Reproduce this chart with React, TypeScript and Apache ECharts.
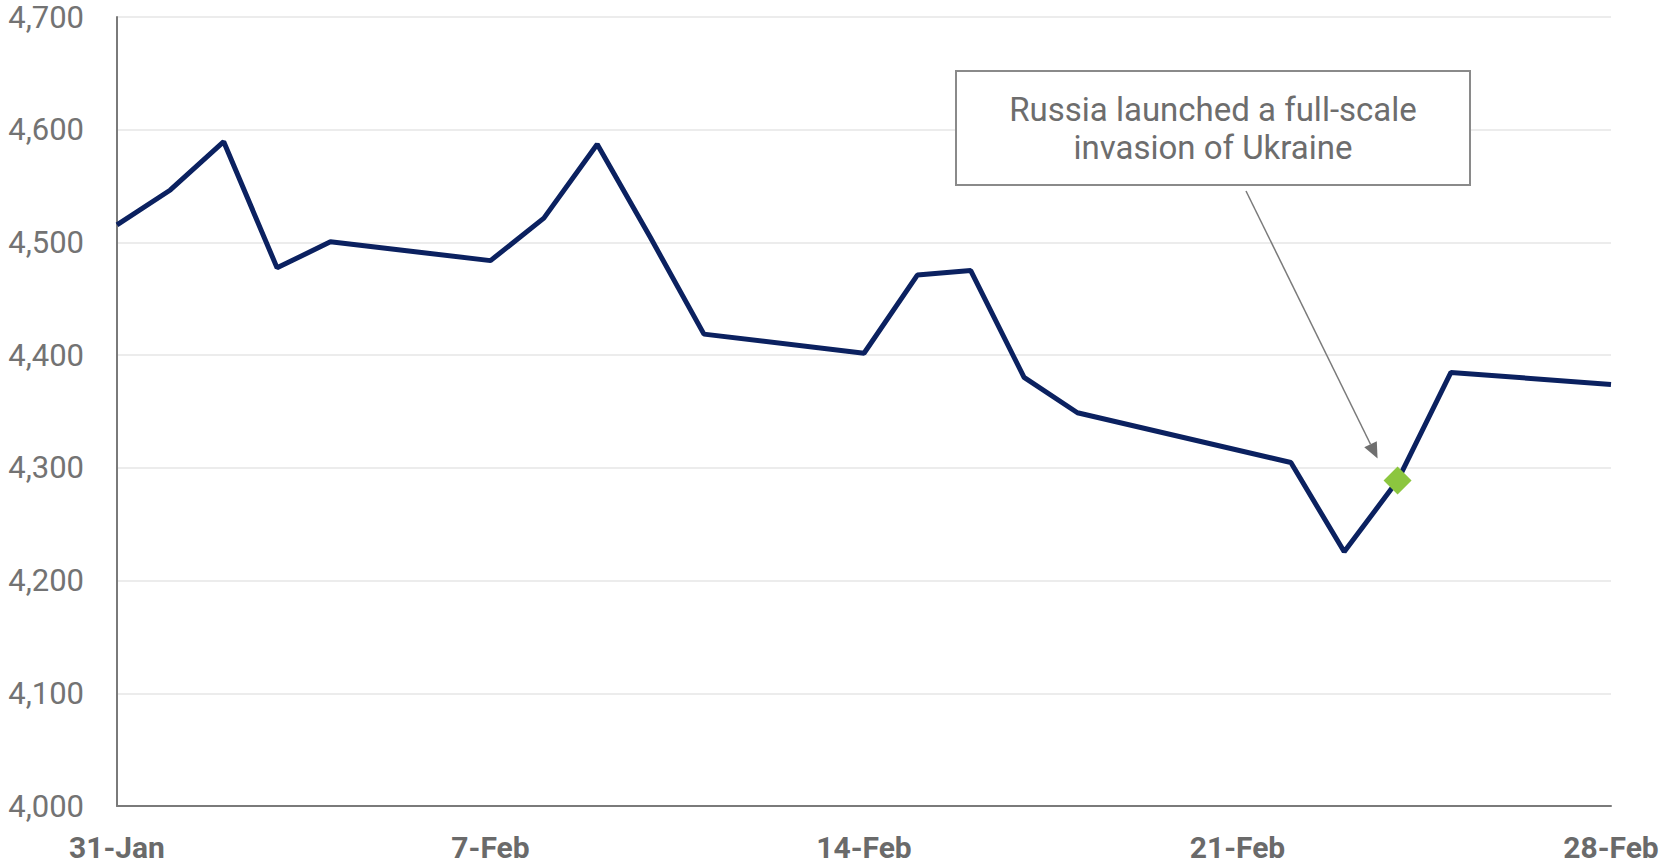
import React, { useEffect, useRef } from "react";
import * as echarts from "echarts";

// S&P 500 daily closes, 31 Jan – 28 Feb 2022
const dates = [
  "2022-01-31", "2022-02-01", "2022-02-02", "2022-02-03", "2022-02-04",
  "2022-02-07", "2022-02-08", "2022-02-09", "2022-02-10", "2022-02-11",
  "2022-02-14", "2022-02-15", "2022-02-16", "2022-02-17", "2022-02-18",
  "2022-02-22", "2022-02-23", "2022-02-24", "2022-02-25", "2022-02-28",
];
const values = [
  4515.55, 4546.54, 4589.38, 4477.44, 4500.53,
  4483.87, 4521.54, 4587.18, 4504.08, 4418.64,
  4401.67, 4471.07, 4475.01, 4380.26, 4348.87,
  4304.76, 4225.5, 4288.7, 4384.65, 4373.94,
];
const invasionDate = "2022-02-24";
const annotationLines = ["Russia launched a full-scale", "invasion of Ukraine"];
const yMin = 4000;
const yMax = 4700;
const yStep = 100;
const xTickStepDays = 7;

const MONTHS = ["Jan", "Feb", "Mar", "Apr", "May", "Jun", "Jul", "Aug", "Sep", "Oct", "Nov", "Dec"];
const DAY = 86400000;
const startMs = Date.parse(dates[0] + "T00:00:00Z");
const endMs = Date.parse(dates[dates.length - 1] + "T00:00:00Z");
const dayOffset = (d: string) => Math.round((Date.parse(d + "T00:00:00Z") - startMs) / DAY);
const fmtDay = (off: number) => {
  const dt = new Date(startMs + off * DAY);
  return dt.getUTCDate() + "-" + MONTHS[dt.getUTCMonth()];
};

const seriesData = dates.map((d, i) => [dayOffset(d), values[i]]);
const invIdx = dates.indexOf(invasionDate);
const invasionPoint = [[dayOffset(invasionDate), values[invIdx]]];

const FONT = "Roboto, 'Liberation Sans', Arial, sans-serif";

export default function App() {
  const ref = useRef<HTMLDivElement>(null);
  useEffect(() => {
    document.body.style.margin = "0";
    const chart = echarts.init(ref.current!, undefined, { renderer: "svg" });
    chart.setOption({
      animation: false,
      backgroundColor: "#ffffff",
      grid: { left: 117, right: 51, top: 17, bottom: 59, containLabel: false },
      xAxis: {
        type: "value",
        min: 0,
        max: Math.round((endMs - startMs) / DAY),
        interval: xTickStepDays,
        axisLine: { show: true, lineStyle: { color: "#7a7a7a", width: 2 } },
        axisTick: { show: false },
        splitLine: { show: false },
        axisLabel: {
          formatter: (v: number) => fmtDay(v),
          color: "#6a6a6a",
          fontWeight: "bold",
          fontSize: 30,
          fontFamily: FONT,
          margin: 26,
          showMinLabel: true,
          showMaxLabel: true,
        },
      },
      yAxis: {
        type: "value",
        min: yMin,
        max: yMax,
        interval: yStep,
        axisLine: { show: true, lineStyle: { color: "#7a7a7a", width: 2 } },
        axisTick: { show: false },
        splitLine: { show: true, lineStyle: { color: "#e6e6e6", width: 1.5 } },
        axisLabel: {
          formatter: (v: number) => v.toLocaleString("en-US"),
          color: "#737373",
          fontSize: 31,
          fontFamily: FONT,
          margin: 33,
        },
      },
      series: [
        {
          type: "line",
          data: seriesData,
          showSymbol: false,
          lineStyle: { color: "#0b2160", width: 5 },
          z: 2,
        },
        {
          type: "scatter",
          data: invasionPoint,
          symbol: "diamond",
          symbolSize: [28, 28],
          itemStyle: { color: "#8cc63f", opacity: 1 },
          z: 3,
        },
      ],
    });

    const p = chart.convertToPixel({ seriesIndex: 1 }, invasionPoint[0]) as number[];
    const boxX = 956, boxY = 71, boxW = 514, boxH = 114;
    const sx = 1246, sy = boxY + boxH + 6;
    const ex = p[0] - 20, ey = p[1] - 22;
    const ang = Math.atan2(ey - sy, ex - sx);
    const hl = 16, hw = 7;
    const bx = ex - hl * Math.cos(ang), by = ey - hl * Math.sin(ang);
    const nx = -Math.sin(ang), ny = Math.cos(ang);
    chart.setOption({
      graphic: [
        {
          type: "rect",
          shape: { x: boxX, y: boxY, width: boxW, height: boxH },
          style: { fill: "#ffffff", stroke: "#8a8a8a", lineWidth: 2 },
          z: 10,
        },
        ...annotationLines.map((t, i) => ({
          type: "text",
          x: boxX + boxW / 2,
          y: boxY + 38 + i * 38,
          style: {
            text: t,
            fill: "#6d6d6d",
            font: `33px ${FONT}`,
            textAlign: "center",
            textVerticalAlign: "middle",
          },
          z: 11,
        })),
        {
          type: "line",
          shape: { x1: sx, y1: sy, x2: bx, y2: by },
          style: { stroke: "#7a7a7a", lineWidth: 1.5 },
          z: 10,
        },
        {
          type: "polygon",
          shape: { points: [[ex, ey], [bx + nx * hw, by + ny * hw], [bx - nx * hw, by - ny * hw]] },
          style: { fill: "#6f6f6f" },
          z: 10,
        },
      ],
    });
    return () => chart.dispose();
  }, []);
  return <div ref={ref} style={{ width: 1662, height: 865 }} />;
}
